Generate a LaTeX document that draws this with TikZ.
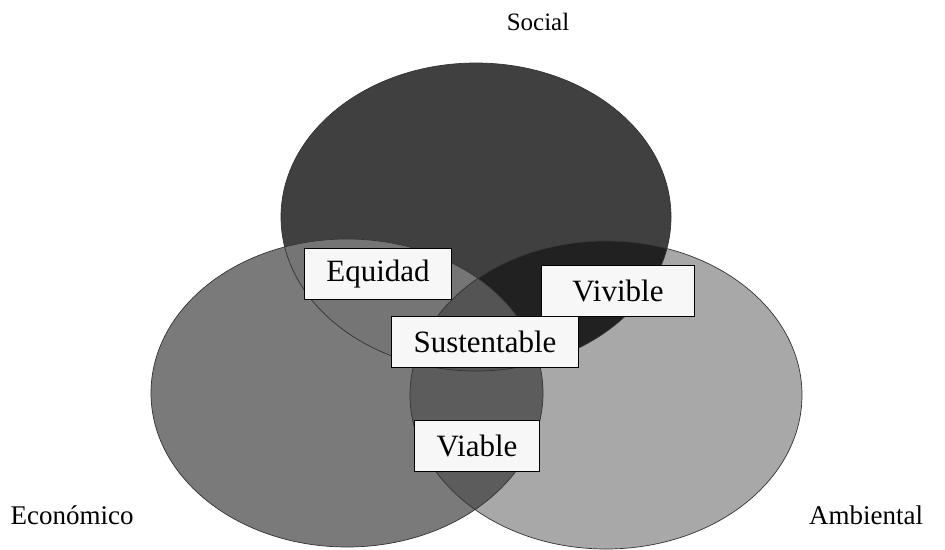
\documentclass[tikz,border=0pt]{standalone}
\usepackage{fontspec}
\setmainfont{Liberation Serif}
\definecolor{socgray}{gray}{0.25}
\definecolor{ecogray}{gray}{0.48}
\definecolor{ambgray}{gray}{0.66}
\definecolor{segray}{gray}{0.46}
\definecolor{sagray}{gray}{0.13}
\definecolor{eagray}{gray}{0.36}
\definecolor{seagray}{gray}{0.33}
\begin{document}
\begin{tikzpicture}[x=1pt, y=1pt, line join=round,
	rim/.style={draw=black!80, line width=0.7pt},
	tag/.style={draw=black, line width=1.3pt, fill=gray!6, inner xsep=22pt, minimum height=51pt, font=\fontsize{31}{36}\selectfont},
	dim/.style={font=\fontsize{27}{32}\selectfont}]
	\useasboundingbox (0,0) rectangle (945,-549);
	\def\soc{(476,-217) ellipse [x radius=195pt, y radius=154pt]}
	\def\eco{(347,-393) ellipse [x radius=196pt, y radius=154pt]}
	\def\amb{(606,-395) ellipse [x radius=196pt, y radius=154pt]}
	% the three circles
	\fill[socgray] \soc;
	\fill[ecogray] \eco;
	\fill[ambgray] \amb;
	% overlaps
	\begin{scope}
		\clip \soc;
		\fill[segray] \eco;
		\fill[sagray] \amb;
	\end{scope}
	\begin{scope}
		\clip \eco;
		\fill[eagray] \amb;
	\end{scope}
	\begin{scope}
		\clip \soc; \clip \eco;
		\fill[seagray] \amb;
	\end{scope}
	\draw[rim] \soc \eco \amb;

	\node[tag] (equidad) at (378,-274) {Equidad};
	\node[tag, minimum width=153pt] (vivible) at (618,-291) {Vivible};
	\node[tag] (sustentable) at (485,-342) {Sustentable};
	\node[tag] (viable) at (477,-446) {Viable};

	\node[dim, font=\fontsize{25}{30}\selectfont] (social) at (538,-22) {Social};
	\node[dim] (economico) at (72,-515) {Económico};
	\node[dim] (ambiental) at (866,-515) {Ambiental};
\end{tikzpicture}
\end{document}
